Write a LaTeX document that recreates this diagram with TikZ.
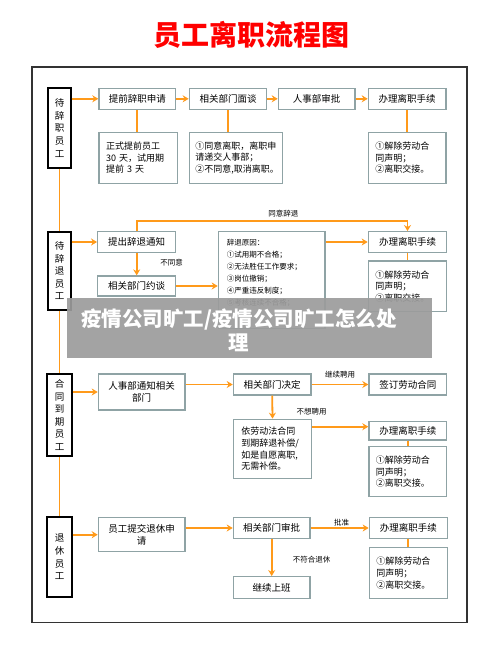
\documentclass[tikz,border=0pt]{standalone}
\usepackage{fontspec}
\setmainfont{Noto Sans CJK SC}
\usetikzlibrary{arrows.meta}
\definecolor{arr}{HTML}{FF9A1A}
\definecolor{bx}{HTML}{8FA3A5}
\definecolor{frm}{HTML}{333333}
\definecolor{veil}{HTML}{9C9C9C}
\tikzset{
  wh/.style 2 args={minimum width=#1pt, minimum height=#2pt},
  box/.style={draw=bx, line width=1.3pt, fill=white, inner sep=0pt,
    font=\fontsize{9.5}{12}\selectfont, align=center},
  tbox/.style={box, align=left, inner xsep=7pt, font=\fontsize{9}{11.6}\selectfont},
  lbl/.style={draw=black, line width=2pt, fill=white, inner sep=0pt,
    font=\fontsize{9.5}{12.6}\selectfont, align=center},
  conn/.style={draw=arr, line width=1.8pt},
  arrow/.style={conn, -{Stealth[length=6pt,width=7pt]}},
  note/.style={font=\fontsize{7.5}{9}\selectfont, inner sep=0pt},
}
\begin{document}
\begin{tikzpicture}[x=1pt,y=-1pt]
\useasboundingbox (0,0) rectangle (500,658);
\fill[white] (0,0) rectangle (500,658);
% title
\node[text=red, font=\fontsize{28}{30}\selectfont\bfseries] (title) at (251,35) {员工离职流程图};
% frame
\draw[frm, line width=1.4pt] (32,67) rectangle (467,622.5);

% ---------- section 1
\node[lbl, wh={22.4}{79.4}] (L1) at (59.5,128) {待\\辞\\职\\员\\工};
\node[box, wh={76.7}{21}] (A1) at (137.3,98.8) {提前辞职申请};
\node[box, wh={77.4}{21}] (A2) at (228,98.8) {相关部门面谈};
\node[box, wh={76.7}{21}] (A3) at (316.7,98.8) {人事部审批};
\node[box, wh={77.7}{21}] (A4) at (407.2,98.8) {办理离职手续};
\node[tbox, wh={78.3}{51}, text width=64.3pt] (B1) at (138.2,157.8) {正式提前员工\\30 天，试用期\\提前 3 天};
\node[tbox, wh={93}{51}, inner xsep=6pt, text width=81pt] (B2) at (235.8,157.8) {①同意离职，离职申\\请递交人事部；\\②不同意,取消离职。};
\node[tbox, wh={77.7}{51}, text width=63.7pt] (B4) at (407.2,157.8) {①解除劳动合\\同声明；\\②离职交接。};
\draw[arrow] (L1.east |- A1) -- (A1.west);
\draw[arrow] (A1) -- (A2);
\draw[arrow] (A2) -- (A3);
\draw[arrow] (A3) -- (A4);
\draw[conn] (A1.south) -- (A1.south |- B1.north);
\draw[conn] (A2.south) -- (A2.south |- B2.north);
\draw[conn] (A4.south) -- (B4.north);

% ---------- section 2
\node[lbl, wh={22.4}{78.3}] (L2) at (59.5,270.8) {待\\辞\\退\\员\\工};
\node[box, wh={78}{20.6}] (C1) at (136.7,242) {提出辞退通知};
\node[box, wh={78}{20}] (C2) at (136.7,286) {相关部门约谈};
\node[box, wh={106.7}{96.6}] (R) at (271.7,280) {};
\node[anchor=north west, inner sep=0pt, align=left, font=\fontsize{7.5}{11.9}\selectfont] (Rt) at (226.7,239.3)
  {辞退原因：\\①试用期不合格；\\②无法胜任工作要求；\\③岗位撤销；\\④严重违反制度；\\⑤考核连续不合格；};
\node[box, wh={78.4}{20.6}] (C4) at (407.5,242) {办理离职手续};
\node[tbox, wh={78.4}{50.7}, text width=64.4pt] (D4) at (407.5,286.3) {①解除劳动合\\同声明；\\②离职交接。};
\coordinate (g1) at (136.7,221);
\draw[arrow] (L2.east |- C1) -- (C1.west);
\draw[arrow] (C1.north) -- (g1) -- (g1 -| C4) -- (C4.north);
\node[note] (n1) at (283.3,214) {同意辞退};
\draw[arrow] (C1.south) -- (C2.north);
\node[note] (n2) at (171.7,262.3) {不同意};
\draw[arrow] (C2.east) -- (R.west |- C2);
\draw[arrow] (R.east |- C4) -- (C4.west);
\draw[conn] (C4.south) -- (D4.north);

% ---------- section 3
\node[lbl, wh={24.4}{82}] (L3) at (59.5,415) {合\\同\\到\\期\\员\\工};
\node[box, wh={86.7}{36}] (E1) at (141.7,392) {人事部通知相关\\部门};
\node[box, wh={77.7}{21}] (E2) at (272.2,384.5) {相关部门决定};
\node[box, wh={77.7}{21}] (E3) at (407.8,384.5) {签订劳动合同};
\node[tbox, wh={78.4}{59}, inner xsep=8pt, text width=62.4pt] (F2) at (272.5,448.8) {依劳动法合同\\到期辞退补偿/\\如是自愿离职,\\无需补偿。};
\node[box, wh={77.7}{18.3}] (F3) at (407.8,430.8) {办理离职手续};
\node[tbox, wh={77.7}{50}, text width=63.7pt] (G3) at (407.8,471.7) {①解除劳动合\\同声明；\\②离职交接。};
\draw[arrow] (L3.east |- E1) -- (E1.west);
\draw[arrow] (E1.east |- E2) -- (E2.west);
\draw[arrow] (E2) -- (E3);
\node[note] (n3) at (340,375) {继续聘用};
\draw[arrow] (E2.south) -- (F2.north);
\node[note] (n4) at (311.7,411.7) {不想聘用};
\draw[arrow] (F2.east |- 0,426.7) -- (F3.west |- 0,426.7);
\draw[conn] (F3.south) -- (G3.north);

% ---------- section 4
\node[lbl, wh={24.4}{80.6}] (L4) at (59.5,557) {退\\休\\员\\工};
\node[box, wh={86.7}{34}] (H1) at (141.7,534.7) {员工提交退休申\\请};
\node[box, wh={76.7}{20.6}] (H2) at (271.7,528) {相关部门审批};
\node[box, wh={78}{20.6}] (H3) at (408.3,528) {办理离职手续};
\node[box, wh={76.7}{21.6}] (K2) at (271.7,587.5) {继续上班};
\node[tbox, wh={78}{50.6}, text width=64pt] (K3) at (408.3,573) {①解除劳动合\\同声明；\\②离职交接。};
\draw[arrow] (L4.east |- H1) -- (H1.west);
\draw[arrow] (H1.east |- H2) -- (H2.west);
\draw[arrow] (H2) -- (H3);
\node[note] (n5) at (341.7,522.3) {批准};
\draw[arrow] (H2.south) -- (K2.north);
\node[note] (n6) at (311.7,559.3) {不符合退休};
\draw[conn] (H3.south) -- (K3.north);

% ---------- main spine
\draw[conn] (L1.south) -- (L2.north);
\draw[conn] (L2.south) -- (L3.north);
\draw[conn] (L3.south) -- (L4.north);

% ---------- overlay band
\fill[veil, opacity=0.92] (67.3,298.3) rectangle (431.7,358.3);
\node[text=white, align=center, font=\fontsize{20.5}{23.7}\selectfont\bfseries] (ov) at (239,330)
  {疫情公司旷工/疫情公司旷工怎么处\\理};
\end{tikzpicture}
\end{document}
